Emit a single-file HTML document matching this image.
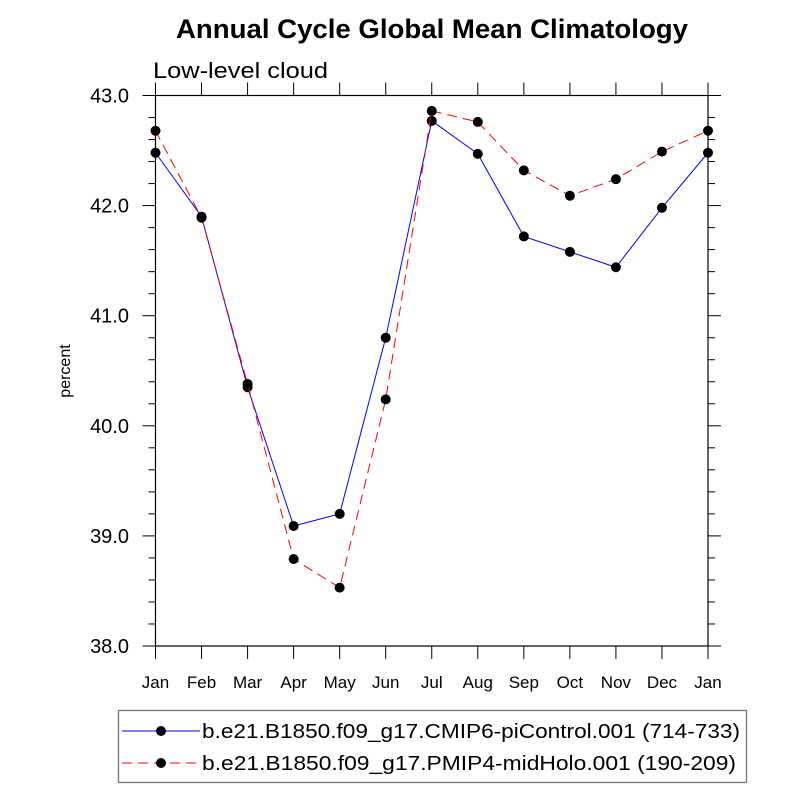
<!DOCTYPE html>
<html><head><meta charset="utf-8"><style>
body{margin:0;background:#fff;}
svg text{font-family:"Liberation Sans",sans-serif;}
</style></head><body>
<svg width="800" height="800" viewBox="0 0 800 800">
<text x="176" y="38" font-size="27" font-weight="bold" textLength="512" lengthAdjust="spacingAndGlyphs">Annual Cycle Global Mean Climatology</text>
<text x="153" y="78" font-size="22" textLength="175" lengthAdjust="spacingAndGlyphs">Low-level cloud</text>
<text x="70" y="371" font-size="16" text-anchor="middle" transform="rotate(-90 70 371)">percent</text>
<g id="axes"></g>
<g id="series"></g>
<rect x="118.5" y="710.5" width="628" height="72" fill="none" stroke="#777" stroke-width="1.3"/>
<g>
<line x1="122" y1="731" x2="200" y2="731" stroke="#0000ff" stroke-width="1"/>
<circle cx="161" cy="731" r="5" fill="#000"/>
<text x="202" y="738" font-size="20" textLength="538" lengthAdjust="spacingAndGlyphs">b.e21.B1850.f09_g17.CMIP6-piControl.001 (714-733)</text>
</g>
<g>
<line x1="122" y1="763" x2="200" y2="763" stroke="#ff0000" stroke-width="1" stroke-dasharray="10,6"/>
<circle cx="161" cy="763" r="5" fill="#000"/>
<text x="202" y="770" font-size="20" textLength="534" lengthAdjust="spacingAndGlyphs">b.e21.B1850.f09_g17.PMIP4-midHolo.001 (190-209)</text>
</g>
</svg>
<script>
const months = ["Jan","Feb","Mar","Apr","May","Jun","Jul","Aug","Sep","Oct","Nov","Dec","Jan"];
const piControl = [42.48,41.90,40.35,39.09,39.20,40.80,42.77,42.47,41.72,41.58,41.44,41.98,42.48];
const midHolo = [42.68,41.89,40.38,38.79,38.53,40.24,42.86,42.76,42.32,42.09,42.24,42.49,42.68];
const yTicks = [38.0,39.0,40.0,41.0,42.0,43.0];
const X0=155.5,X1=708,Y0=646,Y1=95.5,YMIN=38,YMAX=43;
const sx=i=>X0+(X1-X0)*i/(months.length-1);
const sy=v=>Y0-(Y0-Y1)*(v-YMIN)/(YMAX-YMIN);
const NS="http://www.w3.org/2000/svg";
function mk(tag,attrs,parent){const e=document.createElementNS(NS,tag);for(const k in attrs)e.setAttribute(k,attrs[k]);parent.appendChild(e);return e;}
const ax=document.getElementById('axes');
const frame=mk('rect',{x:X0,y:Y1,width:X1-X0,height:Y0-Y1,fill:'none',stroke:'#000','stroke-width':1.2},ax);


months.forEach((m,i)=>{
  const x=sx(i);
  mk('line',{x1:x,y1:Y0,x2:x,y2:Y0+13,stroke:'#000','stroke-width':1},ax);
  mk('line',{x1:x,y1:Y1,x2:x,y2:Y1-13,stroke:'#000','stroke-width':1},ax);
  const t=mk('text',{x:x,y:Y0+42,'font-size':17,'text-anchor':'middle'},ax);
  t.textContent=m;
  
  
});
for(let v=YMIN;v<=YMAX+1e-9;v+=0.2){
  const major=Math.abs(v-Math.round(v))<1e-6;
  const y=sy(v),len=major?13:7;
  mk('line',{x1:X0-len,y1:y,x2:X0,y2:y,stroke:'#000','stroke-width':1},ax);
  mk('line',{x1:X1,y1:y,x2:X1+len,y2:y,stroke:'#000','stroke-width':1},ax);
}
yTicks.forEach(v=>{
  const t=mk('text',{x:129,y:sy(v)+7,'font-size':20,'text-anchor':'end'},ax);
  t.textContent=v.toFixed(1);
  
  
});
const sg=document.getElementById('series');
function draw(vals,color,dash,name){
  const g=mk('g',{},sg);
  
  
  const pts=vals.map((v,i)=>sx(i)+','+sy(v)).join(' ');
  const pl=mk('polyline',{points:pts,fill:'none',stroke:color,'stroke-width':1},g);
  if(dash)pl.setAttribute('stroke-dasharray',dash);
  vals.forEach((v,i)=>{
    const c=mk('circle',{cx:sx(i),cy:sy(v),r:5,fill:'#000'},g);
    
    
  });
}
draw(piControl,'#0000ff',null,'series-picontrol');
draw(midHolo,'#ff0000','10,6','series-midholo');
</script>
</body></html>
